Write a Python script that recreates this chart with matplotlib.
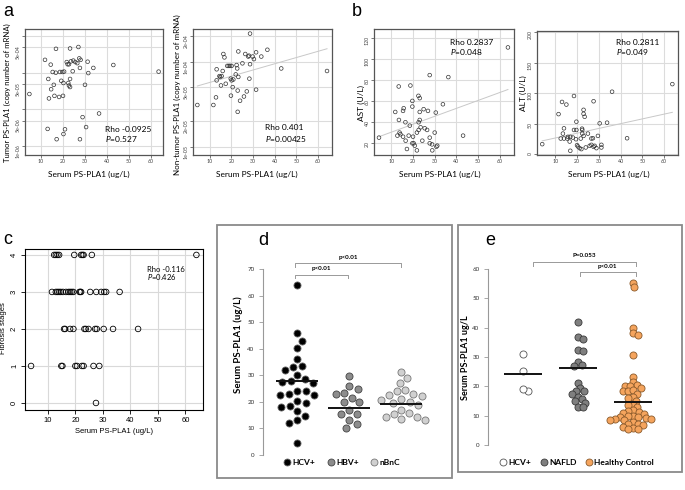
import numpy as np
import matplotlib.pyplot as plt
from matplotlib.lines import Line2D
from matplotlib.patches import Rectangle

plt.rcParams['font.family'] = ['Lato', 'DejaVu Sans']
plt.rcParams['mathtext.fontset'] = 'custom'
plt.rcParams['mathtext.it'] = 'Lato:italic'
plt.rcParams['mathtext.rm'] = 'Lato'

# ---- panel a: serum PS-PLA1 vs tissue mRNA (log10 copy number) ----
a1_serum = [16.8, 23.2, 27.0, 11.8, 14.4, 21.7, 22.1, 22.7, 23.6, 24.7, 25.6, 26.5, 27.4, 28.0, 27.7,
            31.2, 33.8, 42.9, 63.5, 15.3, 16.7, 18.6, 19.7, 20.5, 24.4, 31.5, 13.3, 19.2, 20.2, 23.2,
            22.4, 22.7, 23.2, 30.0, 15.8, 14.6, 4.7, 16.1, 18.2, 20.0, 13.6, 28.9, 36.4, 13.0, 20.9,
            30.5, 20.2, 17.1, 27.7]
a1_log = [-3.35, -3.34, -3.30, -3.65, -3.78, -3.71, -3.77, -3.77, -3.69, -3.67, -3.71, -3.74, -3.61,
          -3.65, -3.87, -3.70, -3.87, -3.79, -3.97, -3.98, -4.00, -3.98, -3.98, -3.97, -3.96, -4.01,
          -4.17, -4.22, -4.28, -4.17, -4.28, -4.35, -4.39, -4.33, -4.33, -4.45, -4.58, -4.63, -4.66,
          -4.63, -4.70, -5.21, -5.11, -5.53, -5.54, -5.48, -5.67, -5.81, -5.81]
a2_serum = [28.6, 4.3, 11.7, 12.9, 13.2, 13.2, 14.5, 14.8, 15.5, 15.2, 16.0, 16.3, 16.8, 17.4, 18.1,
            18.8, 19.4, 20.1, 19.7, 20.1, 20.9, 20.6, 19.8, 22.0, 22.4, 22.7, 23.2, 22.9, 23.2, 24.0,
            22.9, 25.1, 25.8, 26.4, 27.1, 27.8, 28.1, 28.3, 28.6, 29.8, 30.4, 31.4, 31.4, 33.8, 36.6,
            43.0, 64.1]
a2_log = [-3.67, -4.51, -4.51, -4.42, -4.09, -4.22, -4.17, -4.18, -4.17, -4.28, -4.11, -3.91, -3.95,
          -4.26, -4.05, -4.05, -4.05, -4.05, -4.20, -4.22, -4.21, -4.30, -4.40, -4.15, -4.04, -4.08,
          -3.88, -4.34, -4.18, -4.46, -4.59, -4.02, -4.41, -3.91, -4.35, -3.94, -3.93, -4.20, -4.03,
          -3.94, -3.97, -3.89, -4.33, -3.94, -3.86, -4.08, -4.11]
a2_fit = (-4.318, 0.00733)  # intercept, slope (log10 scale)

# ---- panel b: AST / ALT ----
ast_serum = [63.8, 27.7, 36.3, 13.4, 18.8, 22.5, 23.1, 19.7, 19.7, 15.7, 15.4, 11.8, 23.1, 24.9, 26.9,
             30.5, 33.8, 13.5, 16.5, 22.6, 23.1, 18.5, 23.5, 25.4, 26.5, 22.6, 21.8, 30.0, 13.8, 14.2,
             12.8, 18.0, 15.4, 20.0, 27.7, 43.1, 4.3, 16.6, 24.3, 19.7, 20.3, 27.7, 28.8, 20.8, 31.2,
             30.8, 17.2, 21.8, 28.9]
ast = [111.1, 84.8, 82.9, 74.0, 74.9, 65.1, 62.9, 60.3, 54.9, 53.3, 50.8, 49.8, 49.8, 52.4, 50.8, 49.2,
       57.1, 42.2, 40.0, 40.0, 42.2, 36.8, 35.2, 34.3, 32.7, 32.7, 30.2, 30.2, 30.2, 28.6, 27.3, 27.3,
       26.3, 26.3, 25.4, 27.3, 25.4, 22.5, 22.5, 20.0, 20.0, 20.0, 19.0, 17.8, 17.8, 16.8, 14.6, 13.3, 13.3]
ast_fit = (23.06, 0.753)
alt_serum = [63.8, 36.1, 18.6, 13.1, 15.1, 27.6, 11.5, 23.0, 23.0, 23.5, 19.7, 30.4, 33.8, 14.0, 18.6,
             19.7, 22.3, 22.4, 13.5, 22.4, 25.0, 23.0, 29.6, 15.8, 16.9, 18.1, 12.5, 14.0, 15.5, 19.5,
             21.7, 26.6, 27.3, 43.0, 16.6, 4.0, 20.0, 20.4, 21.2, 22.0, 24.0, 25.8, 26.6, 28.1, 28.9,
             31.2, 31.2, 16.9, 27.6]
alt = [114.8, 102.4, 95.4, 85.7, 81.4, 86.8, 65.8, 72.8, 66.3, 61.5, 53.4, 50.7, 51.8, 42.6, 39.9, 39.9,
       42.0, 39.9, 34.0, 34.0, 34.0, 30.2, 30.2, 28.6, 28.6, 27.5, 25.9, 25.9, 25.9, 24.8, 25.9, 25.9,
       26.4, 26.4, 21.0, 16.7, 15.1, 12.9, 10.2, 8.6, 11.3, 14.0, 15.6, 14.0, 10.2, 11.3, 15.6, 5.9, 12.4]
alt_fit = (18.98, 0.780)

# ---- panel c: fibrosis stage ----
fib_s4 = [12.3, 12.9, 13.5, 14.1, 19.6, 22.1, 22.6, 23.0, 26.0, 64.0]
fib_s3 = [11.5, 12.9, 13.5, 14.1, 14.7, 15.5, 16.6, 17.5, 18.1, 18.7, 19.3, 21.5, 21.8, 22.1, 25.4,
          27.6, 29.4, 30.5, 31.2, 36.1]
fib_s2 = [15.9, 16.3, 18.1, 19.3, 23.3, 23.8, 24.8, 27.2, 27.8, 30.3, 33.7, 42.8]
fib_s1 = [3.9, 14.9, 15.3, 20.0, 20.6, 22.4, 23.0, 26.6, 28.7]
fib_s0 = [27.5]

# ---- panel d ----
d_groups = ['HCV+', 'HBV+', 'nBnC']
hcv_d = [64.0, 45.8, 43.0, 40.2, 36.3, 33.5, 33.2, 32.0, 30.2, 28.5, 28.0, 27.5, 27.0, 24.0, 24.0,
         23.0, 22.7, 22.5, 20.3, 19.5, 18.5, 18.0, 16.5, 14.8, 13.0, 12.0, 4.5]
hbv_d = [29.8, 25.8, 24.8, 23.2, 22.8, 21.5, 20.0, 19.8, 16.8, 15.3, 15.3, 13.3, 11.5, 10.3]
nbnc_d = [31.2, 28.8, 27.0, 24.5, 24.0, 23.0, 22.5, 22.2, 21.0, 20.8, 20.0, 19.5, 18.8, 17.0, 15.8,
          15.3, 14.2, 14.2, 13.5, 13.0]
medians_d = [27.7, 17.8, 19.2]

# ---- panel e ----
e_groups = ['HCV+', 'NAFLD', 'Healthy Control']
hcv_e = [31.0, 25.4, 18.5, 19.1]
nafld_e = [42.0, 36.7, 36.3, 32.3, 32.0, 28.2, 27.2, 27.0, 21.1, 19.6, 18.5, 18.3, 17.5, 16.5, 15.8,
           15.0, 14.4, 13.0, 12.8]
healthy_e = [55.4, 53.8, 40.0, 38.2, 37.6, 30.8, 23.1, 21.4, 20.5, 20.0, 20.0, 19.4, 18.3, 18.3, 18.6,
             17.5, 16.3, 15.9, 15.0, 13.7, 13.6, 12.8, 12.0, 11.6, 11.2, 11.0, 10.6, 10.0, 9.8, 9.5,
             9.5, 9.1, 9.0, 8.8, 8.5, 8.5, 7.7, 7.3, 7.1, 6.8, 6.2, 5.8, 5.5, 5.4]
medians_e = [24.3, 26.2, 14.6]

W, H = 685, 490
fig = plt.figure(figsize=(W / 100, H / 100), dpi=100)


def px_axes(l, t, r, b):
    return fig.add_axes([l / W, 1 - b / H, (r - l) / W, (b - t) / H])


def ftext(x, y, s, **kw):
    fig.text(x / W, 1 - y / H, s, **kw)


def frame_rect(l, t, r, b):
    fig.add_artist(Rectangle((l / W, 1 - b / H), (r - l) / W, (b - t) / H, transform=fig.transFigure,
                             fill=False, ec='#8a8a8a', lw=1.3))


def style_scatter(ax, xlim, ylim, fs=3.8):
    ax.set_xlim(xlim)
    ax.set_ylim(ylim)
    ax.set_xticks([10, 20, 30, 40, 50, 60])
    ax.grid(True, which='major', color='#dcdcdc', lw=0.8)
    ax.set_axisbelow(True)
    ax.tick_params(labelsize=fs, length=2, width=0.5, colors='#444', pad=1.2)
    ax.tick_params(axis='y', labelrotation=90)
    ax.tick_params(which='minor', left=False)
    for sp in ax.spines.values():
        sp.set_color('#555')
        sp.set_linewidth(0.9)


def pts(ax, x, y, s=7, lw=0.5):
    ax.scatter(x, y, s=s, facecolors='none', edgecolors='#333', linewidths=lw, zorder=3)


def swarm(vals, center, d_px, ppx, ppy):
    vals = np.asarray(vals)
    placed = []
    xs = np.zeros(len(vals))
    for i in np.argsort(vals)[::-1]:
        y = vals[i] * ppy
        off = None
        k = 0
        while off is None:
            for sgn in (1, -1):
                o = sgn * k * 0.5
                if all((o - px) ** 2 + (y - py) ** 2 >= d_px ** 2 for px, py in placed):
                    off = o
                    break
            k += 1
        placed.append((off, y))
        xs[i] = center + off / ppx
    return xs


# ===== a1 =====
ax = px_axes(25, 29, 163, 155)
pts(ax, a1_serum, 10 ** np.array(a1_log))
ax.set_yscale('log')
style_scatter(ax, (2.7, 65.5), (10 ** -6.24, 10 ** -2.81))
ax.set_yticks([1e-3, 5e-4, 1e-4, 5e-5, 1e-5, 5e-6, 1e-6])
ax.set_yticklabels(['', '5e-04', '', '5e-05', '', '5e-06', '1e-06'])
ax.text(39, 10 ** -5.54, 'Rho -0.0925', fontsize=6, va='center')
ax.text(39, 10 ** -5.81, '$\\it{P}$=0.527', fontsize=6, va='center')

# ===== a2 =====
ax = px_axes(193, 29, 332, 155)
pts(ax, a2_serum, 10 ** np.array(a2_log))
xx = np.array([min(a2_serum), max(a2_serum)])
ax.plot(xx, 10 ** (a2_fit[0] + a2_fit[1] * xx), color='#c8c8c8', lw=0.7)
ax.set_yscale('log')
style_scatter(ax, (2.3, 66.4), (10 ** -5.098, 10 ** -3.616))
ax.set_yticks([2e-4, 1e-4, 5e-5, 2e-5, 1e-5])
ax.set_yticklabels(['2e-04', '1e-04', '5e-05', '2e-05', '1e-05'])
ax.text(35.5, 10 ** -4.78, 'Rho 0.401', fontsize=6, va='center')
ax.text(35.5, 10 ** -4.91, '$\\it{P}$=0.00425', fontsize=6, va='center')

# ===== b1 =====
ax = px_axes(374, 29, 514, 155)
pts(ax, ast_serum, ast)
xx = np.array([min(ast_serum), max(ast_serum)])
ax.plot(xx, ast_fit[0] + ast_fit[1] * xx, color='#c8c8c8', lw=0.7)
style_scatter(ax, (2.0, 66.6), (8.9, 128.6))
ax.set_yticks([20, 40, 60, 80, 100, 120])
ax.text(36.9, 116, 'Rho 0.2837', fontsize=6, va='center')
ax.text(36.9, 107, '$\\it{P}$=0.048', fontsize=6, va='center')

# ===== b2 =====
ax = px_axes(537, 31, 678, 155)
pts(ax, alt_serum, alt)
xx = np.array([min(alt_serum), max(alt_serum)])
ax.plot(xx, alt_fit[0] + alt_fit[1] * xx, color='#c8c8c8', lw=0.7)
style_scatter(ax, (1.6, 66.4), (-1, 201.6))
ax.set_yticks([0, 50, 100, 150, 200])
ax.text(37.8, 182.7, 'Rho 0.2811', fontsize=6, va='center')
ax.text(37.8, 167.7, '$\\it{P}$=0.049', fontsize=6, va='center')

# axis labels a/b
ftext(7, 93, 'Tumor PS-PLA1 (copy number of mRNA)', rotation=90, fontsize=5.6, ha='center', va='center')
ftext(177, 95, 'Non-tumor PS-PLA1 (copy number of mRNA)', rotation=90, fontsize=5.8, ha='center', va='center')
ftext(361, 103, 'AST (U/L)', rotation=90, fontsize=6, ha='center', va='center')
ftext(523, 93, 'ALT (U/L)', rotation=90, fontsize=6, ha='center', va='center')
for cx in (89, 257, 440, 609):
    ftext(cx, 174, 'Serum PS-PLA1 (ug/L)', fontsize=6, ha='center', va='center')

# ===== c =====
ax = px_axes(25, 249, 203, 410)
for stage, vals in zip([4, 3, 2, 1, 0], [fib_s4, fib_s3, fib_s2, fib_s1, fib_s0]):
    ax.scatter(vals, [stage] * len(vals), s=16, facecolors='none', edgecolors='black', linewidths=0.6, zorder=3)
ax.set_xlim(1.7, 66.4)
ax.set_ylim(-0.19, 4.16)
ax.set_xticks([10, 20, 30, 40, 50, 60])
ax.set_yticks([0, 1, 2, 3, 4])
ax.grid(True, color='#d9d9d9', lw=0.8)
ax.set_axisbelow(True)
ax.tick_params(labelsize=5.5, length=3, width=0.6, pad=2)
ax.tick_params(axis='y', labelrotation=90)
for lab in ax.get_xticklabels() + ax.get_yticklabels():
    lab.set_family('Liberation Sans')
for sp in ax.spines.values():
    sp.set_linewidth(0.8)
ax.text(46, 3.6, 'Rho -0.116', fontsize=5.5, va='center')
ax.text(46, 3.39, '$\\it{P}$=0.426', fontsize=5.5, va='center')
ftext(4, 328, 'Fibrosis stages', rotation=90, fontsize=5.5, ha='center', va='center', family='Liberation Sans')
ftext(114, 431, 'Serum PS-PLA1 (ug/L)', fontsize=5.5, ha='center', va='center', family='Liberation Sans')


# ===== d / e dot plots =====
def dot_panel(ax, groups_vals, medians, colors, ylim, ymax_tick, ppx, ppy, half, d_px):
    for i, (vals, (fc, ec)) in enumerate(zip(groups_vals, colors)):
        xs = swarm(vals, i + 1, d_px, ppx, ppy)
        ax.scatter(xs, vals, s=26, facecolors=fc, edgecolors=ec, linewidths=0.6, zorder=3)
        ax.hlines(medians[i], i + 1 - half, i + 1 + half, color='#111', lw=1.4, zorder=4)
    ax.set_ylim(ylim)
    ax.set_xticks([])
    for side in ('top', 'right', 'bottom'):
        ax.spines[side].set_visible(False)
    ax.spines['left'].set_bounds(0, ymax_tick)
    ax.spines['left'].set_color('#999')
    ax.spines['left'].set_linewidth(0.8)
    ax.set_yticks(np.arange(0, ymax_tick + 1, 10))
    ax.tick_params(axis='y', labelsize=4.5, length=3, width=0.6, color='#999', labelcolor='#333', pad=3)
    ax.patch.set_alpha(0)


def bracket(ax, x1, x2, y, drop, label, ty):
    ax.plot([x1, x1, x2, x2], [y - drop, y, y, y - drop], color='#999', lw=0.7, clip_on=False)
    ax.text((x1 + x2) / 2, ty, label, fontsize=4.5, fontweight='bold', ha='center', va='center')


frame_rect(217, 225, 452, 478)
ax = px_axes(263, 252, 445, 455)
d_colors = [('black', '#666'), ('#8c8c8c', '#444'), ('#d0d0d0', '#777')]
ax.set_xlim(0.346, 3.846)
dot_panel(ax, [hcv_d, hbv_d, nbnc_d], medians_d, d_colors, (0, 76.4), 70, 52, 2.657, 0.40, 8.5)
bracket(ax, 0.96, 1.98, 67.8, 1.3, 'p<0.01', 70.3)
bracket(ax, 0.96, 3.0, 72.1, 1.3, 'p<0.01', 74.4)
handles = [Line2D([], [], marker='o', ls='', mfc=fc, mec=ec, ms=5, mew=0.6) for fc, ec in d_colors]
fig.legend(handles, d_groups, loc='center', bbox_to_anchor=(341 / W, 1 - 462 / H), ncol=3, frameon=False,
           prop={'weight': 'bold', 'size': 6}, handletextpad=0.05, columnspacing=1.3, borderaxespad=0,
           handlelength=1.2)
ftext(238, 345, 'Serum PS-PLA1 (ug/L)', rotation=90, fontsize=7, fontweight='bold', ha='center', va='center')

frame_rect(458, 225, 682, 472)
ax = px_axes(488, 250, 675, 445)
e_colors = [('white', '#555'), ('#7f7f7f', '#3a3a3a'), ('#f5a45d', '#8a5a2b')]
ax.set_xlim(0.364, 3.764)
dot_panel(ax, [hcv_e, nafld_e, healthy_e], medians_e, e_colors, (0, 66.5), 60, 55, 2.933, 0.34, 4.9)
bracket(ax, 1.18, 3.05, 62.4, 1.2, 'P=0.053', 64.7)
bracket(ax, 2.03, 3.05, 59.0, 1.2, 'p<0.01', 60.8)
handles = [Line2D([], [], marker='o', ls='', mfc=fc, mec=ec, ms=5, mew=0.6) for fc, ec in e_colors]
fig.legend(handles, e_groups, loc='center', bbox_to_anchor=(576 / W, 1 - 462 / H), ncol=3, frameon=False,
           prop={'weight': 'bold', 'size': 6}, handletextpad=0.05, columnspacing=0.9, borderaxespad=0,
           handlelength=1.2)
ftext(466, 358, 'Serum PS-PLA1 ug/L', rotation=90, fontsize=6.5, fontweight='bold', ha='center', va='center')

# panel letters
for lx, ly, s in [(8, 12, 'a'), (357, 11, 'b'), (8, 239, 'c'), (263, 240, 'd'), (490, 240, 'e')]:
    ftext(lx, ly, s, fontsize=13, ha='center', va='center', family='Liberation Sans')

fig.savefig('out.png', dpi=100)
